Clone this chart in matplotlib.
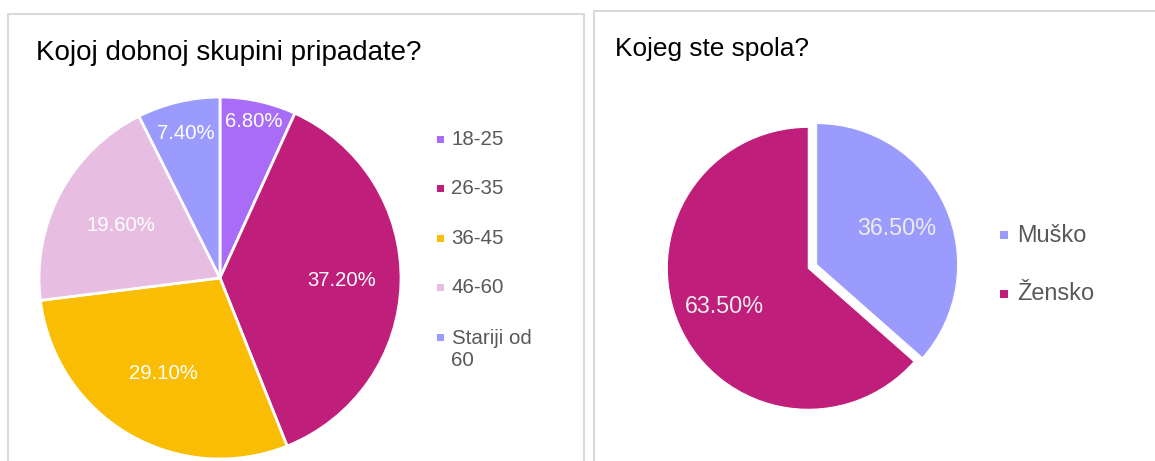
import matplotlib
matplotlib.use('Agg')
import matplotlib.pyplot as plt
from matplotlib.patches import Rectangle
import numpy as np

W, H, DPI = 1155, 461, 100

# Age groups
age_title = 'Kojoj dobnoj skupini pripadate?'
age_labels = ['18-25', '26-35', '36-45', '46-60', 'Stariji od\n60']
age_values = [6.8, 37.2, 29.1, 19.6, 7.4]
age_colors = ['#a86cf7', '#bf1e7a', '#f9bd03', '#e8bde2', '#9b9bfe']

# Gender
sex_title = 'Kojeg ste spola?'
sex_labels = ['Muško', 'Žensko']
sex_values = [36.5, 63.5]
sex_colors = ['#9b9bfe', '#bf1e7a']

plt.rcParams['font.family'] = ['Liberation Sans', 'DejaVu Sans']

fig = plt.figure(figsize=(W / DPI, H / DPI), dpi=DPI)


def fx(px):
    return px / W


def fy(py):
    return 1 - py / H


# card frames
for x0, y0, x1 in [(7.5, 14, 584), (594, 11, 1170)]:
    fig.add_artist(Rectangle((fx(x0), fy(H + 20)), (x1 - x0) / W, (H + 20 - y0) / H,
                             fill=False, edgecolor='#d9d9d9', lw=1.5,
                             transform=fig.transFigure))


def pie_panel(cx, cy, r, values, colors, label_r, label_fs, label_color,
              edge_lw, explode=None):
    pad = 1.12
    ax = fig.add_axes([fx(cx - r * pad), fy(cy + r * pad), 2 * r * pad / W, 2 * r * pad / H])
    wedges, _ = ax.pie(values, colors=colors, startangle=90, counterclock=False,
                       explode=explode, radius=1,
                       wedgeprops=dict(edgecolor='white', linewidth=edge_lw))
    ax.set_xlim(-pad, pad)
    ax.set_ylim(-pad, pad)
    ax.set_aspect('equal')
    ax.axis('off')
    for w, v, lr in zip(wedges, values, label_r):
        mid = np.deg2rad((w.theta1 + w.theta2) / 2)
        c = w.center
        ax.text(c[0] + lr * np.cos(mid), c[1] + lr * np.sin(mid), f'{v:.2f}%',
                ha='center', va='center', fontsize=label_fs, color=label_color)
    return ax


def legend(x_marker, y0, pitch, size, x_text, fs, labels, colors):
    line_px = fs * DPI / 72 * 1.2
    for i, (lab, col) in enumerate(zip(labels, colors)):
        y = y0 + i * pitch
        fig.add_artist(Rectangle((fx(x_marker - size / 2), fy(y + size / 2)), size / W, size / H,
                                 facecolor=col, edgecolor='none', transform=fig.transFigure))
        n = lab.count('\n')
        fig.text(fx(x_text), fy(y + n * line_px / 2), lab, ha='left', va='center',
                 fontsize=fs, color='#595959', linespacing=1.2)


# left card
fig.text(fx(36), fy(53), age_title, fontsize=20, color='#000000', va='center', ha='left')
pie_panel(220, 278, 181, age_values, age_colors,
          [0.887, 0.674, 0.613, 0.62, 0.82], 14.6, 'white', 2.0)
legend(440.5, 139.5, 49.4, 7, 451.5, 14.8, age_labels, age_colors)

# right card
fig.text(fx(615), fy(49), sex_title, fontsize=18.9, color='#000000', va='center', ha='left')
pie_panel(808.3, 268.3, 141, sex_values, sex_colors,
          [0.62, 0.65], 16.8, '#ececec', 0.8, explode=[0.065, 0])
legend(1003.5, 235.5, 58.5, 8, 1017, 16.9, sex_labels, sex_colors)

fig.savefig('out.png', dpi=DPI, facecolor='white')
